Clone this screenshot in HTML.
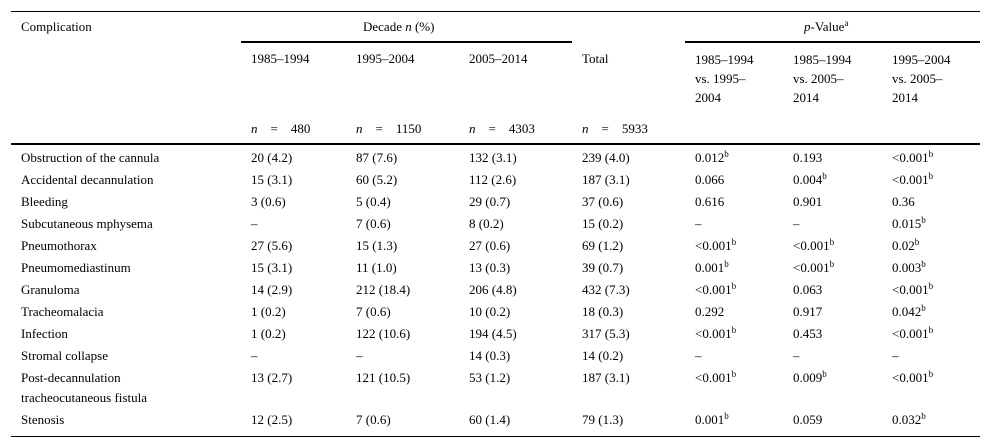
<!DOCTYPE html>
<html><head><meta charset="utf-8"><style>
body{margin:0;background:#fff;width:992px;height:447px;position:relative;overflow:hidden;font-family:"Liberation Serif",serif;font-size:13px;color:#000}
.t{position:absolute;white-space:nowrap;line-height:16px}
.l{position:absolute;background:#000}
sup{font-size:9px;line-height:0;vertical-align:5px}
i{font-style:italic}
</style></head><body>
<div class="l" style="left:11px;top:11px;width:969px;height:1px"></div>
<div class="l" style="left:241px;top:41px;width:331px;height:2px"></div>
<div class="l" style="left:685px;top:41px;width:295px;height:2px"></div>
<div class="l" style="left:11px;top:143px;width:969px;height:2px"></div>
<div class="l" style="left:11px;top:436px;width:969px;height:1px"></div>
<div class="t" style="left:21px;top:19px">Complication</div>
<div class="t" style="left:363px;top:19px">Decade <i>n</i> (%)</div>
<div class="t" style="left:804px;top:19px"><i>p</i>-Value<sup>a</sup></div>
<div class="t" style="left:251px;top:51px">1985–1994</div>
<div class="t" style="left:356px;top:51px">1995–2004</div>
<div class="t" style="left:469px;top:51px">2005–2014</div>
<div class="t" style="left:582px;top:51px">Total</div>
<div class="t" style="left:695px;top:50px;line-height:19px">1985–1994<br>vs. 1995–<br>2004</div>
<div class="t" style="left:793px;top:50px;line-height:19px">1985–1994<br>vs. 2005–<br>2014</div>
<div class="t" style="left:892px;top:50px;line-height:19px">1995–2004<br>vs. 2005–<br>2014</div>
<div class="t" style="left:251px;top:121px"><i>n</i>&nbsp;&nbsp;&nbsp;&nbsp;=&nbsp;&nbsp;&nbsp;&nbsp;480</div>
<div class="t" style="left:356px;top:121px"><i>n</i>&nbsp;&nbsp;&nbsp;&nbsp;=&nbsp;&nbsp;&nbsp;&nbsp;1150</div>
<div class="t" style="left:469px;top:121px"><i>n</i>&nbsp;&nbsp;&nbsp;&nbsp;=&nbsp;&nbsp;&nbsp;&nbsp;4303</div>
<div class="t" style="left:582px;top:121px"><i>n</i>&nbsp;&nbsp;&nbsp;&nbsp;=&nbsp;&nbsp;&nbsp;&nbsp;5933</div>
<div id="rows"></div>
<script>
const labels=["Obstruction of the cannula","Accidental decannulation","Bleeding","Subcutaneous mphysema","Pneumothorax","Pneumomediastinum","Granuloma","Tracheomalacia","Infection","Stromal collapse","Post-decannulation<br>tracheocutaneous fistula","Stenosis"];
const c1=["20 (4.2)","15 (3.1)","3 (0.6)","–","27 (5.6)","15 (3.1)","14 (2.9)","1 (0.2)","1 (0.2)","–","13 (2.7)","12 (2.5)"];
const c2=["87 (7.6)","60 (5.2)","5 (0.4)","7 (0.6)","15 (1.3)","11 (1.0)","212 (18.4)","7 (0.6)","122 (10.6)","–","121 (10.5)","7 (0.6)"];
const c3=["132 (3.1)","112 (2.6)","29 (0.7)","8 (0.2)","27 (0.6)","13 (0.3)","206 (4.8)","10 (0.2)","194 (4.5)","14 (0.3)","53 (1.2)","60 (1.4)"];
const tot=["239 (4.0)","187 (3.1)","37 (0.6)","15 (0.2)","69 (1.2)","39 (0.7)","432 (7.3)","18 (0.3)","317 (5.3)","14 (0.2)","187 (3.1)","79 (1.3)"];
const p1=["0.012b","0.066","0.616","–","<0.001b","0.001b","<0.001b","0.292","<0.001b","–","<0.001b","0.001b"];
const p2=["0.193","0.004b","0.901","–","<0.001b","<0.001b","0.063","0.917","0.453","–","0.009b","0.059"];
const p3=["<0.001b","<0.001b","0.36","0.015b","0.02b","0.003b","<0.001b","0.042b","<0.001b","–","<0.001b","0.032b"];
const cols=[[labels,21],[c1,251],[c2,356],[c3,469],[tot,582],[p1,695],[p2,793],[p3,892]];
const rows=document.getElementById('rows');
function fmt(s){s=s.replace(/</g,'&lt;').replace(/&lt;br>/g,'<br>');return s.replace(/b$/,'<sup>b</sup>');}
for(let r=0;r<labels.length;r++){
  const top=148+r*22+(r==11?20:0);
  cols.forEach(([arr,x],ci)=>{
    const d=document.createElement('div');
    d.className='t';
    d.style.left=x+'px';d.style.top=top+'px';d.style.lineHeight='20px';
    d.innerHTML=fmt(arr[r]);
    
    
    rows.appendChild(d);
  });
}
</script>
</body></html>
